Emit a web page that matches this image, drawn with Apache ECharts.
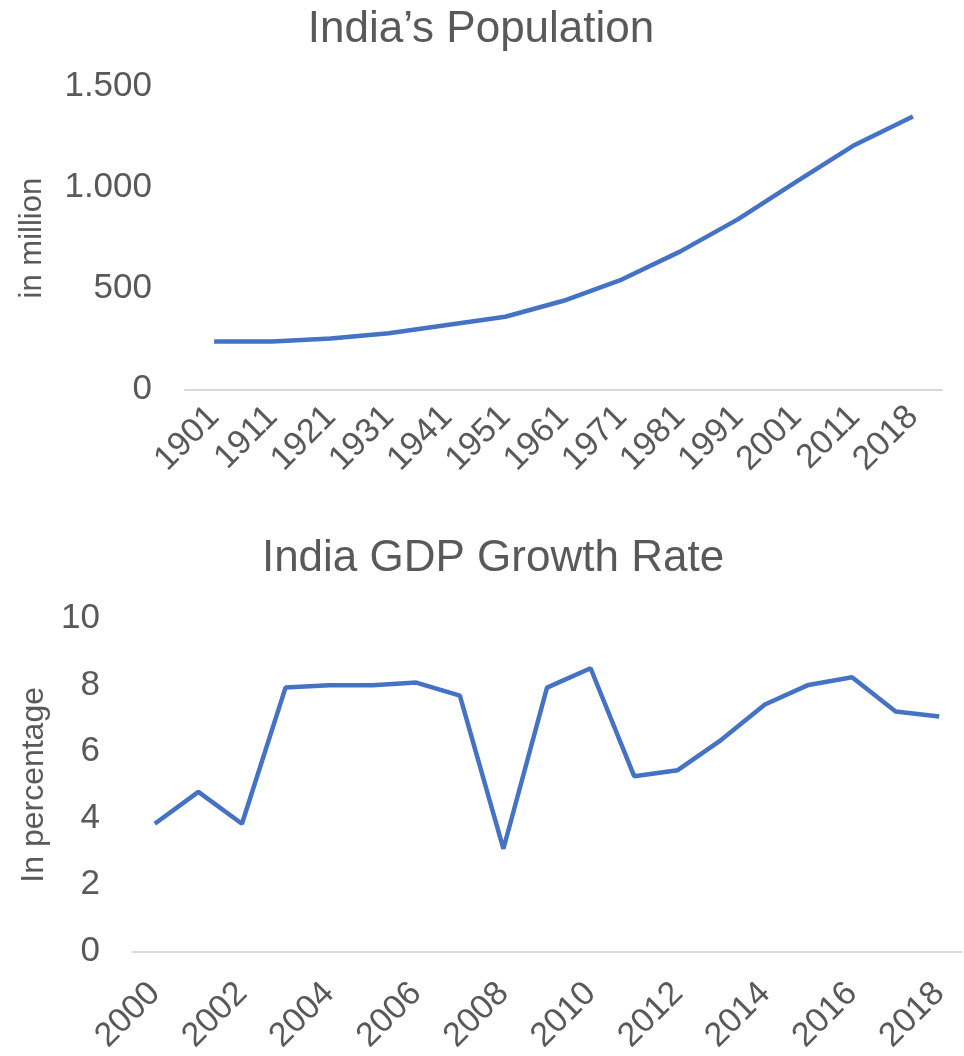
<!DOCTYPE html>
<html>
<head>
<meta charset="utf-8">
<script src="https://cdn.jsdelivr.net/npm/echarts@6/dist/echarts.min.js"></script>
<style>
html,body{margin:0;padding:0;background:#fff;}
#chart{width:964px;height:1056px;}
</style>
</head>
<body>
<div id="chart"></div>
<script>
const popYears = ['1901','1911','1921','1931','1941','1951','1961','1971','1981','1991','2001','2011','2018'];
const popValues = [238, 238, 253, 279, 320, 361, 440, 545, 683, 844, 1029, 1211, 1352];
const popTicks = [0, 500, 1000, 1500];

const gdpYears = ['2000','2001','2002','2003','2004','2005','2006','2007','2008','2009','2010','2011','2012','2013','2014','2015','2016','2017','2018'];
const gdpValues = [3.83, 4.79, 3.83, 7.92, 7.99, 7.99, 8.07, 7.68, 3.08, 7.92, 8.5, 5.26, 5.44, 6.35, 7.41, 8.0, 8.23, 7.2, 7.05];
const gdpTicks = [0, 2, 4, 6, 8, 10];

const txt = '#595959';
const font = '"Liberation Sans", Arial, sans-serif';
const chart = echarts.init(document.getElementById('chart'));
chart.setOption({
  backgroundColor: '#fff',
  textStyle: {fontFamily: font},
  title: [
    {text: 'India’s Population', left: 476, textAlign: 'center', top: 3,
     textStyle: {fontSize: 44, fontWeight: 'normal', color: txt, fontFamily: font}},
    {text: 'India GDP Growth Rate', left: 488, textAlign: 'center', top: 532,
     textStyle: {fontSize: 44, fontWeight: 'normal', color: txt, fontFamily: font}}
  ],
  grid: [
    {left: 185, right: 22, top: 86.5, height: 303.2},
    {left: 133, right: 3, top: 618.3, height: 335}
  ],
  xAxis: [
    {type: 'category', gridIndex: 0, data: popYears, boundaryGap: true,
     axisLine: {lineStyle: {color: '#D9D9D9', width: 2}}, axisTick: {show: false},
     axisLabel: {rotate: 45, interval: 0, fontSize: 34, color: txt, margin: 22, fontFamily: font}},
    {type: 'category', gridIndex: 1, data: gdpYears, boundaryGap: true,
     axisLine: {lineStyle: {color: '#D9D9D9', width: 2}}, axisTick: {show: false},
     axisLabel: {rotate: 45, interval: 1, fontSize: 34, color: txt, margin: 37, fontFamily: font}}
  ],
  yAxis: [
    {type: 'value', gridIndex: 0, min: popTicks[0], max: popTicks[popTicks.length-1], interval: 500,
     name: 'in million', nameLocation: 'middle', nameGap: 137,
     nameTextStyle: {fontSize: 31, color: txt, fontFamily: font},
     axisLine: {show: false}, axisTick: {show: false}, splitLine: {show: false},
     axisLabel: {fontSize: 35, color: txt, margin: 33, fontFamily: font,
       formatter: v => String(v).replace(/\B(?=(\d{3})+(?!\d))/g, '.')}},
    {type: 'value', gridIndex: 1, min: gdpTicks[0], max: gdpTicks[gdpTicks.length-1], interval: 2,
     name: 'In percentage', nameLocation: 'middle', nameGap: 80,
     nameTextStyle: {fontSize: 32, color: txt, fontFamily: font},
     axisLine: {show: false}, axisTick: {show: false}, splitLine: {show: false},
     axisLabel: {fontSize: 35, color: txt, margin: 33, fontFamily: font}}
  ],
  series: [
    {type: 'line', xAxisIndex: 0, yAxisIndex: 0, data: popValues, showSymbol: false,
     lineStyle: {color: '#4472C4', width: 4.5}, itemStyle: {color: '#4472C4'}},
    {type: 'line', xAxisIndex: 1, yAxisIndex: 1, data: gdpValues, showSymbol: false,
     lineStyle: {color: '#4472C4', width: 4.5}, itemStyle: {color: '#4472C4'}}
  ]
});
</script>
</body>
</html>
